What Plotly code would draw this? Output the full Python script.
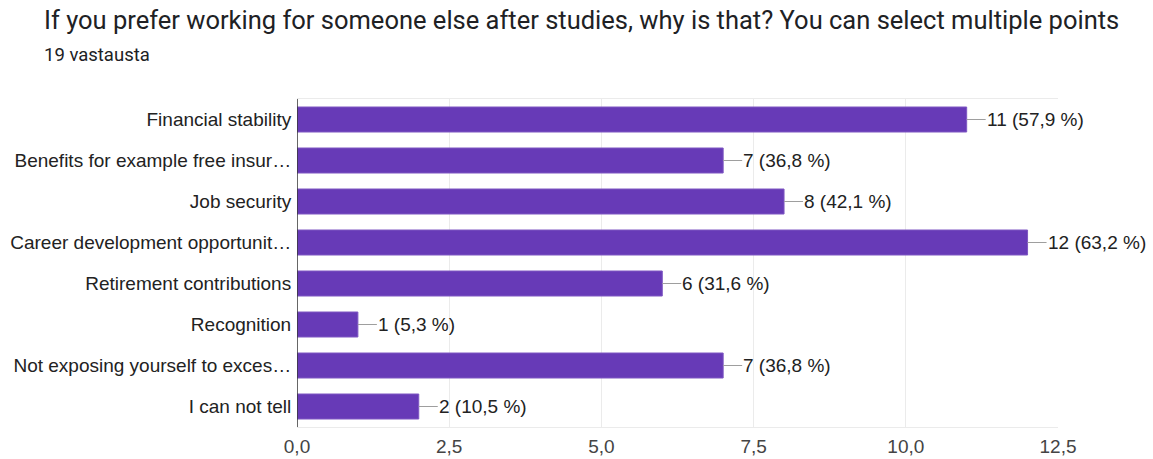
import plotly.graph_objects as go

categories = [
    "Financial stability",
    "Benefits for example free insur…",
    "Job security",
    "Career development opportunit…",
    "Retirement contributions",
    "Recognition",
    "Not exposing yourself to exces…",
    "I can not tell",
]
counts = [11, 7, 8, 12, 6, 1, 7, 2]
percents = ["57,9", "36,8", "42,1", "63,2", "31,6", "5,3", "36,8", "10,5"]
tick_vals = [0, 2.5, 5, 7.5, 10, 12.5]
tick_text = ["0,0", "2,5", "5,0", "7,5", "10,0", "12,5"]
title_text = "If you prefer working for someone else after studies, why is that? You can select multiple points"
subtitle_text = "19 vastausta"

L, R, T, B = 297, 95, 99, 32
W, H = 1153, 459
LABEL_FONT = dict(family="Liberation Sans, Arial", size=19, color="#222222")

fig = go.Figure()
fig.add_trace(go.Bar(
    x=counts, y=categories, orientation="h",
    marker=dict(color="#673ab7", line=dict(color="#7e57c2", width=1)),
    hoverinfo="skip",
))

for c, n, p in zip(categories, counts, percents):
    fig.add_annotation(
        x=n, y=c, xref="x", yref="y",
        text=f"{n} ({p} %)",
        showarrow=True, arrowhead=0, arrowwidth=1, arrowcolor="#9e9e9e",
        ax=19, ay=0, xanchor="left", yanchor="middle",
        font=LABEL_FONT,
        standoff=0, startstandoff=0, borderpad=0,
    )

plot_h = H - T - B
plot_w = W - L - R
def px_to_paper(xp, yp):
    return (xp - L) / plot_w, (H - B - yp) / plot_h

tx, ty = px_to_paper(42, 20)
sx, sy = px_to_paper(42, 55)
fig.add_annotation(x=tx, y=ty, xref="paper", yref="paper", text=title_text, showarrow=False,
                   xanchor="left", yanchor="middle", font=dict(family="Roboto", size=25.5, color="#202124"))
fig.add_annotation(x=sx, y=sy, xref="paper", yref="paper", text=subtitle_text, showarrow=False,
                   xanchor="left", yanchor="middle", font=dict(family="Roboto", size=18.5, color="#202124"))

fig.update_layout(
    width=W, height=H,
    margin=dict(l=L, r=R, t=T, b=B, autoexpand=False),
    paper_bgcolor="white", plot_bgcolor="white",
    showlegend=False,
    bargap=0.39,
    font=LABEL_FONT,
)

fig.update_xaxes(
    range=[0, 12.5], tickvals=tick_vals, ticktext=tick_text,
    showgrid=True, gridcolor="#ebebeb", gridwidth=1,
    showline=True, mirror=True, linecolor="#ebebeb", linewidth=1,
    zeroline=False, ticks="outside", ticklen=2, tickcolor="rgba(0,0,0,0)",
    tickfont=dict(family="Liberation Sans, Arial", size=19, color="#444444"),
    fixedrange=True, automargin=False,
)
fig.update_yaxes(
    autorange="reversed", showgrid=False, zeroline=False,
    showline=False,
    ticks="outside", ticklen=1, tickcolor="rgba(0,0,0,0)",
    tickfont=LABEL_FONT,
    fixedrange=True, automargin=False,
)
fig.add_shape(type="line", xref="x", yref="paper", x0=0, x1=0, y0=0, y1=1,
              line=dict(color="#333333", width=1.5), layer="above")

fig.write_html("out.html", config={"displayModeBar": False})
